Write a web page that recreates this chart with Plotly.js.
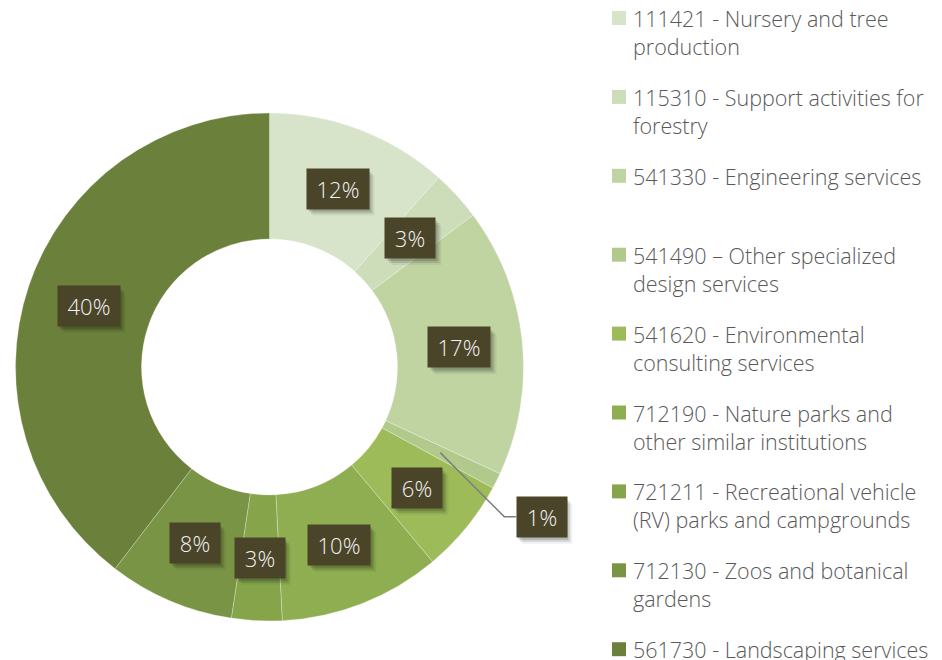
<!DOCTYPE html>
<html><head><meta charset="utf-8">
<script src="https://cdn.plot.ly/plotly-3.0.1.min.js"></script>
<style>html,body{margin:0;padding:0;background:#fff;overflow:hidden}#chart{width:942px;height:660px}</style>
</head><body><div id="chart"></div>
<script>
// ---- data ----
const industries = [
  '111421 - Nursery and tree<br>production',
  '115310 - Support activities for<br>forestry',
  '541330 - Engineering services',
  '541490 – Other specialized<br>design services',
  '541620 - Environmental<br>consulting services',
  '712190 - Nature parks and<br>other similar institutions',
  '721211 - Recreational vehicle<br>(RV) parks and campgrounds',
  '712130 - Zoos and botanical<br>gardens',
  '561730 - Landscaping services'
];
const shares = [11.6, 3.2, 17.1, 1.0, 6.0, 10.3, 3.2, 8.0, 39.6];
const sliceColors = ['#d8e4ca','#cddcb9','#c0d4a2','#b1ca8b','#9dbb59','#8fae51','#86a54b','#7a9445','#6b803b'];

// ---- layout constants ----
const W = 942, H = 660;
const dom = {x: [15.5/W, 523.5/W], y: [39/H, 547/H]};
const hole = 0.504;

const data = [{
  type: 'pie',
  labels: industries,
  values: shares,
  sort: false,
  direction: 'clockwise',
  rotation: 0,
  hole: hole,
  domain: dom,
  textinfo: 'none',
  hoverinfo: 'label+percent',
  showlegend: false,
  marker: {colors: sliceColors, line: {color: 'rgba(255,255,255,0.35)', width: 0.8}}
}];

// label boxes computed from the data
const cx = (dom.x[0] + dom.x[1]) / 2 * W;
const cy = (1 - (dom.y[0] + dom.y[1]) / 2) * H;
const R = Math.min((dom.x[1] - dom.x[0]) * W, (dom.y[1] - dom.y[0]) * H) / 2;
const rMid = R * (1 + hole) / 2;
const total = shares.reduce((a, b) => a + b, 0);
const annotations = [], shapes = [];
const boxColor = '#4a4429';
const PAD = 5, BOXH = 30;
function boxAnn(x, y, text, xanchor) {
  const w = 16 + 12 * text.length;
  return {
    xref: 'paper', yref: 'paper', x: x / W, y: 1 - y / H,
    text: text, showarrow: false, xanchor: xanchor, yanchor: 'middle',
    bgcolor: boxColor,
    font: {family: '"Open Sans", sans-serif', size: 22, color: '#f2f2f2', weight: 300},
    borderpad: PAD, width: w, height: BOXH
  };
}
function shadowRects(x, y, text, xanchor) {
  const w = 16 + 12 * text.length + 2 * PAD, h = BOXH + 2 * PAD;
  const x0 = xanchor === 'left' ? x : x - w / 2;
  const y0 = y - h / 2;
  const out = [];
  [[2, 3, 0.14], [4, 5, 0.12], [6, 7, 0.06]].forEach(([dx, dy, a]) => {
    out.push({type: 'rect', xref: 'paper', yref: 'paper', layer: 'above',
      x0: (x0 + dx) / W, x1: (x0 + w + dx) / W, y0: 1 - (y0 + dy) / H, y1: 1 - (y0 + h + dy) / H,
      fillcolor: `rgba(0,0,0,${a})`, line: {width: 0}});
  });
  return out;
}
let cum = 0;
shares.forEach((v, i) => {
  const frac = v / total;
  const mid = (cum + v / 2) / total * 2 * Math.PI;
  cum += v;
  const txt = Math.round(frac * 100) + '%';
  const sx = cx + rMid * Math.sin(mid), sy = cy - rMid * Math.cos(mid);
  if (frac < 0.02) {
    const ex = sx + 64, ey = sy + 64;
    const fx = ex + 12, fy = ey;
    shapes.push({type: 'path', xref: 'paper', yref: 'paper', layer: 'above',
      path: `M ${sx/W} ${1-sy/H} L ${ex/W} ${1-ey/H} L ${fx/W} ${1-fy/H}`,
      line: {color: '#7f7f7f', width: 1.5}});
    shapes.push(...shadowRects(fx, fy, txt, 'left'));
    annotations.push(boxAnn(fx, fy, txt, 'left'));
  } else {
    shapes.push(...shadowRects(sx, sy, txt, 'center'));
    annotations.push(boxAnn(sx, sy, txt, 'center'));
  }
});

// legend (squares + wrapped text), one entry per slice
const LEG_X = 612, LEG_SQ = 14, LEG_TX = 632, LEG_Y0 = 17, LEG_STEP = 78.9, LEG_FONT = 21.5;
industries.forEach((name, i) => {
  const yc = LEG_Y0 + i * LEG_STEP;
  const ys = yc + 1;
  shapes.push({type: 'rect', xref: 'paper', yref: 'paper', layer: 'above',
    x0: LEG_X / W, x1: (LEG_X + LEG_SQ) / W, y0: 1 - (ys - LEG_SQ / 2) / H, y1: 1 - (ys + LEG_SQ / 2) / H,
    fillcolor: sliceColors[i], line: {width: 0}});
  annotations.push({xref: 'paper', yref: 'paper', x: LEG_TX / W, y: 1 - (yc - LEG_FONT * 0.65) / H,
    xanchor: 'left', yanchor: 'top', align: 'left', showarrow: false, borderpad: 0,
    text: name, font: {family: '"Open Sans", sans-serif', size: LEG_FONT, color: '#595959', weight: 300}});
});

const layout = {
  width: W, height: H,
  margin: {l: 0, r: 0, t: 0, b: 0},
  paper_bgcolor: '#ffffff',
  showlegend: false,
  annotations: annotations,
  shapes: shapes
};

Plotly.newPlot('chart', data, layout, {displayModeBar: false, staticPlot: true});
</script>
</body></html>
